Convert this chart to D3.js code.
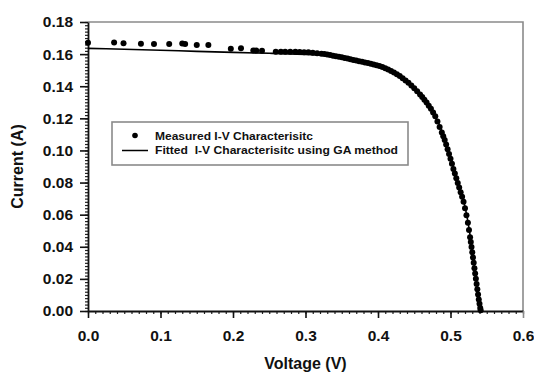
<!DOCTYPE html>
<html>
<head>
<meta charset="utf-8">
<script src="https://cdn.jsdelivr.net/npm/d3@7"></script>
<style>
  body { margin: 0; background: #fff; }
  svg { display: block; }
  text { font-family: Arial, "Liberation Sans", sans-serif; font-weight: bold; fill: #111; }
</style>
</head>
<body>
<svg id="chart" width="534" height="373"></svg>
<script>
// ---- data ----
const xTicks = [0.0, 0.1, 0.2, 0.3, 0.4, 0.5, 0.6];
const yTicks = [0.00, 0.02, 0.04, 0.06, 0.08, 0.10, 0.12, 0.14, 0.16, 0.18];
const xTitle = "Voltage (V)";
const yTitle = "Current (A)";
const legendLabels = ["Measured I-V Characterisitc", "Fitted  I-V Characterisitc using GA method"];

// measured voltage (V)
const measuredV = [
  0.000, 0.036, 0.049, 0.073, 0.091, 0.112, 0.130, 0.134, 0.150, 0.166,
  0.197, 0.211, 0.228, 0.232, 0.240, 0.259, 0.266, 0.272, 0.279, 0.286,
  0.292, 0.298, 0.304, 0.310, 0.316, 0.322, 0.326, 0.330, 0.334, 0.338,
  0.342, 0.346, 0.350, 0.354, 0.358, 0.362, 0.366, 0.370, 0.374, 0.378,
  0.382, 0.386, 0.390, 0.394, 0.398, 0.402, 0.406, 0.410, 0.414, 0.418,
  0.422, 0.426, 0.430, 0.434, 0.438, 0.442, 0.446, 0.450, 0.454, 0.458,
  0.461, 0.464, 0.467, 0.470, 0.473, 0.476, 0.479, 0.482, 0.485, 0.488,
  0.490, 0.492, 0.494, 0.496, 0.498, 0.500, 0.502, 0.504, 0.506, 0.508,
  0.510, 0.512, 0.514, 0.516, 0.518, 0.520, 0.522, 0.524, 0.5255, 0.527,
  0.528, 0.529, 0.530, 0.531, 0.532, 0.533, 0.534, 0.535, 0.536, 0.537,
  0.538, 0.539, 0.540, 0.541, 0.5416
];
// measured current (A)
const measuredI = [
  0.1671, 0.1673, 0.1667, 0.1664, 0.1663, 0.1663, 0.1666, 0.1663, 0.1657, 0.1656,
  0.1634, 0.1636, 0.1622, 0.1622, 0.1621, 0.1615, 0.1615, 0.1615, 0.1614, 0.1614,
  0.1613, 0.1612, 0.1611, 0.1609, 0.1606, 0.1603, 0.1600, 0.1597, 0.1594, 0.1590,
  0.1587, 0.1583, 0.1580, 0.1576, 0.1572, 0.1568, 0.1564, 0.1560, 0.1556, 0.1552,
  0.1548, 0.1544, 0.1540, 0.1536, 0.1531, 0.1526, 0.1519, 0.1512, 0.1504, 0.1495,
  0.1486, 0.1475, 0.1463, 0.1450, 0.1436, 0.1421, 0.1405, 0.1388, 0.1369, 0.1349,
  0.1333, 0.1316, 0.1298, 0.1279, 0.1259, 0.1237, 0.1213, 0.1180, 0.1146, 0.1111,
  0.1088, 0.1065, 0.1037, 0.1008, 0.0978, 0.0948, 0.0917, 0.0885, 0.0856, 0.0827,
  0.0798, 0.0769, 0.0740, 0.0711, 0.0680, 0.0640, 0.0596, 0.0550, 0.0505, 0.0460,
  0.0430, 0.0398, 0.0366, 0.0333, 0.0300, 0.0267, 0.0234, 0.0201, 0.0168, 0.0135,
  0.0102, 0.0072, 0.0045, 0.0018, 0.0005
];

// fitted curve (GA method)
const fittedV = [0.00, 0.05, 0.10, 0.15, 0.20, 0.25, 0.30, 0.33, 0.36, 0.39, 0.41, 0.43, 0.45, 0.47, 0.48, 0.49, 0.50, 0.51, 0.52, 0.525, 0.53, 0.535, 0.5416];
const fittedI = [0.1636, 0.1630, 0.1624, 0.1617, 0.1611, 0.1605, 0.1598, 0.1592, 0.1572, 0.1542, 0.1515, 0.1465, 0.1392, 0.1282, 0.1205, 0.1100, 0.0955, 0.0800, 0.0650, 0.0530, 0.0375, 0.0205, 0.0000];

// ---- drawing ----
const svg = d3.select("#chart");
const x = d3.scaleLinear().domain([0, 0.6]).range([88, 523]);
const y = d3.scaleLinear().domain([0, 0.18]).range([311, 22]);

// frame (top & right, gray)
svg.append("path")
  .attr("d", `M${x(0)},${y(0.18)}H${x(0.6)}V${y(0)}`)
  .attr("fill", "none").attr("stroke", "#8a8a8a").attr("stroke-width", 1.6);

// minor ticks
const xMinor = d3.range(0, 61).map(i => i / 100);
const yMinor = d3.range(0, 91).map(i => i / 500);
svg.append("g").attr("transform", `translate(0,${y(0)})`)
  .call(d3.axisBottom(x).tickValues(xMinor).tickSize(3).tickSizeOuter(0).tickFormat(""))
  .call(g => g.select(".domain").remove())
  .call(g => g.selectAll("line").attr("stroke", "#222").attr("stroke-width", 1.2));
svg.append("g").attr("transform", `translate(${x(0)},0)`)
  .call(d3.axisLeft(y).tickValues(yMinor).tickSize(3).tickSizeOuter(0).tickFormat(""))
  .call(g => g.select(".domain").remove())
  .call(g => g.selectAll("line").attr("stroke", "#222").attr("stroke-width", 1.2));

// major axes
const xAxis = svg.append("g").attr("transform", `translate(0,${y(0)})`)
  .call(d3.axisBottom(x).tickValues(xTicks).tickSize(7).tickSizeOuter(0).tickPadding(12).tickFormat(d3.format(".1f")));
const yAxis = svg.append("g").attr("transform", `translate(${x(0)},0)`)
  .call(d3.axisLeft(y).tickValues(yTicks).tickSize(8).tickSizeOuter(0).tickPadding(7).tickFormat(d3.format(".2f")));
[xAxis, yAxis].forEach(g => {
  g.select(".domain").attr("stroke", "#111").attr("stroke-width", 1.8);
  g.selectAll(".tick line").attr("stroke", "#111").attr("stroke-width", 1.6);
  g.selectAll(".tick text").attr("font-size", 15.5).attr("font-weight", "bold")
    .attr("font-family", "Arial, 'Liberation Sans', sans-serif").attr("fill", "#1a1a1a");
});
// the 0.6 major tick sits at the gray right edge
xAxis.selectAll(".tick").filter(d => d === 0.6).select("line").attr("stroke", "#8a8a8a");

// axis titles
svg.append("text").attr("x", (x(0) + x(0.6)) / 2).attr("y", 369)
  .attr("text-anchor", "middle").attr("font-size", 16).text(xTitle);
svg.append("text").attr("transform", `translate(23,${(y(0) + y(0.18)) / 2}) rotate(-90)`)
  .attr("text-anchor", "middle").attr("font-size", 16).text(yTitle);

// fitted line
const fitted = fittedV.map((v, i) => [v, fittedI[i]]);
svg.append("path").datum(fitted)
  .attr("d", d3.line().x(d => x(d[0])).y(d => y(d[1])).curve(d3.curveMonotoneX))
  .attr("fill", "none").attr("stroke", "#000").attr("stroke-width", 1.6);

// measured points
const measured = measuredV.map((v, i) => [v, measuredI[i]]);
svg.append("g").selectAll("circle").data(measured).join("circle")
  .attr("cx", d => x(d[0])).attr("cy", d => y(d[1])).attr("r", 3)
  .attr("fill", "#000");

// legend
const lg = svg.append("g");
lg.append("rect").attr("x", 112).attr("y", 122).attr("width", 296).attr("height", 43)
  .attr("fill", "#fff").attr("stroke", "#8a8a8a").attr("stroke-width", 1.6);
lg.append("circle").attr("cx", 135).attr("cy", 135.5).attr("r", 2.8).attr("fill", "#000");
lg.append("line").attr("x1", 122).attr("x2", 148).attr("y1", 150.5).attr("y2", 150.5)
  .attr("stroke", "#000").attr("stroke-width", 1.5);
lg.append("text").attr("x", 155).attr("y", 139.5).attr("font-size", 10.5)
  .style("white-space", "pre")
  .attr("textLength", 158).attr("lengthAdjust", "spacingAndGlyphs").text(legendLabels[0]);
lg.append("text").attr("x", 155).attr("y", 154).attr("font-size", 10.5)
  .style("white-space", "pre")
  .attr("textLength", 243).attr("lengthAdjust", "spacingAndGlyphs").text(legendLabels[1]);
</script>
</body>
</html>
